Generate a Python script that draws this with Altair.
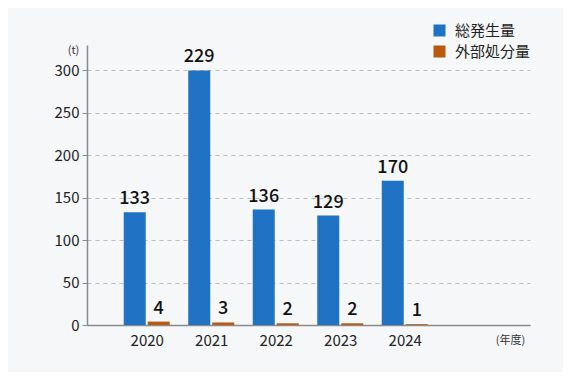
import altair as alt
import pandas as pd

years = [2020, 2021, 2022, 2023, 2024]
total = [133, 300, 136, 129, 170]
total_labels = ["133", "229", "136", "129", "170"]
external = [4, 3, 2, 2, 1]
external_labels = ["4", "3", "2", "2", "1"]
series_names = ["総発生量", "外部処分量"]
colors = ["#2072c4", "#b85a10"]

rows = []
for y, v, l in zip(years, total, total_labels):
    rows.append({"year": y, "value": v, "label": l, "series": series_names[0]})
for y, v, l in zip(years, external, external_labels):
    rows.append({"year": y, "value": v, "label": l, "series": series_names[1]})
df = pd.DataFrame(rows)

FONT = "Noto Sans CJK JP"
FONT_MED = "Noto Sans CJK JP Medium, Noto Sans CJK JP"

x = alt.X(
    "year:Q",
    scale=alt.Scale(domain=[2019.1515, 2025.864], nice=False, zero=False),
    axis=alt.Axis(
        values=years, format="d", grid=False, ticks=False,
        domainColor="#8a8a8a", domainWidth=1.5,
        labelFontSize=15, labelColor="#222", labelPadding=8, labelFont=FONT,
        title="(年度)", titleFontSize=11, titleFontWeight="normal", titleColor="#333",
        titleX=423, titleY=15, titleBaseline="middle", titleAlign="center", titleFont=FONT,
    ),
)
y = alt.Y(
    "value:Q",
    scale=alt.Scale(domain=[0, 330], nice=False),
    axis=alt.Axis(
        values=[0, 50, 100, 150, 200, 250, 300],
        grid=True, gridDash=[4, 4], gridColor="#bdbdbd", gridWidth=1,
        tickColor="#8a8a8a", tickSize=5, domainColor="#8a8a8a", domainWidth=1.5,
        labelFontSize=15, labelColor="#222", labelPadding=3, labelFont=FONT,
        title="(t)", titleAngle=0, titleFontSize=11, titleFontWeight="normal",
        titleColor="#333", titleX=-14, titleY=5, titleBaseline="middle",
        titleAlign="center", titleFont=FONT,
    ),
)
color = alt.Color(
    "series:N",
    scale=alt.Scale(domain=series_names, range=colors),
    legend=alt.Legend(
        title=None, orient="none", legendX=345, legendY=-22,
        symbolType="square", symbolSize=144, symbolStrokeWidth=0,
        labelFontSize=15, labelFont=FONT, labelColor="#222",
        rowPadding=5, labelOffset=8, padding=0,
    ),
)

base = alt.Chart(df)
bars_t = base.transform_filter(alt.datum.series == series_names[0]).mark_bar(
    width=22, xOffset=-12
).encode(x=x, y=y, color=color)
bars_e = base.transform_filter(alt.datum.series == series_names[1]).mark_bar(
    width=22, xOffset=12
).encode(x=x, y=y, color=color)
text_t = base.transform_filter(alt.datum.series == series_names[0]).mark_text(
    xOffset=-12, dy=-8, baseline="alphabetic", fontSize=18, fontWeight="normal",
    font=FONT_MED, color="#111"
).encode(x=x, y=y, text="label:N")
text_e = base.transform_filter(alt.datum.series == series_names[1]).mark_text(
    xOffset=12, dy=-8, baseline="alphabetic", fontSize=18, fontWeight="normal",
    font=FONT_MED, color="#111"
).encode(x=x, y=y, text="label:N")

chart = alt.layer(bars_t, bars_e, text_t, text_e).properties(
    width=443, height=280,
    autosize=alt.AutoSizeParams(type="none"),
    padding={"left": 79, "top": 37, "right": 33, "bottom": 47},
    background="#f5f7f9",
).configure_view(stroke=None)

chart.save("out.html", embed_options={"renderer": "svg", "actions": False})
